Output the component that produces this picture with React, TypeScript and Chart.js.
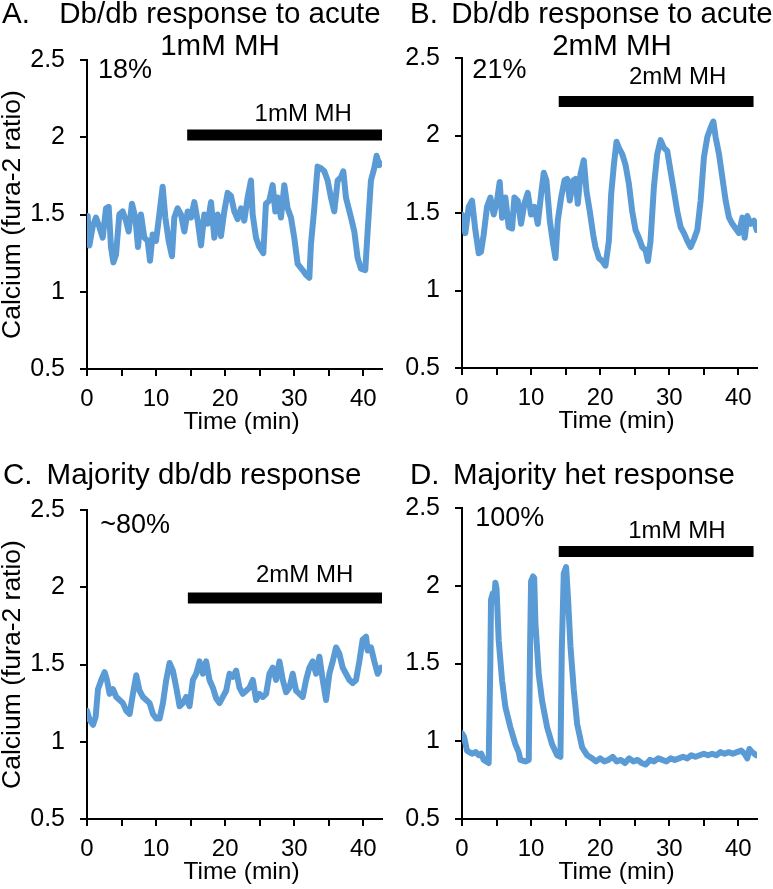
import React, { useEffect, useRef } from 'react';
import { Chart, registerables } from 'chart.js';

Chart.register(...registerables);

const FONT = '"Liberation Sans", Arial, Helvetica, sans-serif';

// ---- axes ----
const X_MAX = 42.7;
const X_TICKS = [0, 5, 10, 15, 20, 25, 30, 35, 40];
const X_LABELED = [0, 10, 20, 30, 40];
const Y_TICKS = [0.5, 1, 1.5, 2, 2.5];
const X_TITLE = 'Time (min)';
const Y_TITLE = 'Calcium (fura-2 ratio)';

// ---- panel A: db/db, acute 1mM MH ----
const timeA = [0.1, 0.34, 0.82, 1.3, 1.78, 2.27, 2.75, 3.14, 3.47, 3.81, 4.2, 4.68, 5.16, 5.64, 6.03, 6.51, 7.0, 7.38, 7.81, 8.3, 8.78, 9.12, 9.5, 9.99, 10.47, 10.95, 11.34, 11.82, 12.3, 12.64, 13.12, 13.6, 14.09, 14.57, 15.05, 15.53, 16.02, 16.5, 16.98, 17.46, 17.95, 18.43, 18.91, 19.39, 19.87, 20.36, 20.84, 21.32, 21.8, 22.29, 22.77, 23.25, 23.73, 23.98, 24.46, 24.94, 25.52, 25.9, 26.39, 26.87, 27.26, 27.6, 28.07, 28.56, 29.04, 29.52, 30.0, 30.49, 31.21, 31.69, 32.18, 32.42, 32.9, 33.38, 33.86, 34.35, 34.83, 35.31, 35.79, 36.28, 36.76, 37.1, 37.48, 38.21, 38.69, 39.17, 39.65, 40.28, 40.62, 41.1, 41.58, 41.92, 42.31, 42.55];
const ratioA = [1.49, 1.30, 1.42, 1.48, 1.42, 1.35, 1.54, 1.55, 1.29, 1.19, 1.24, 1.50, 1.52, 1.46, 1.39, 1.57, 1.48, 1.29, 1.50, 1.35, 1.33, 1.20, 1.37, 1.33, 1.50, 1.68, 1.48, 1.33, 1.23, 1.48, 1.54, 1.50, 1.39, 1.52, 1.48, 1.58, 1.46, 1.30, 1.50, 1.44, 1.58, 1.35, 1.50, 1.36, 1.52, 1.64, 1.62, 1.52, 1.47, 1.54, 1.46, 1.61, 1.72, 1.50, 1.35, 1.29, 1.25, 1.57, 1.59, 1.69, 1.52, 1.61, 1.48, 1.69, 1.54, 1.48, 1.35, 1.18, 1.14, 1.11, 1.09, 1.31, 1.54, 1.81, 1.80, 1.78, 1.72, 1.61, 1.52, 1.72, 1.74, 1.78, 1.61, 1.48, 1.39, 1.22, 1.15, 1.14, 1.39, 1.72, 1.80, 1.88, 1.82, 1.83];

// ---- panel B: db/db, acute 2mM MH ----
const timeB = [0, 0.48, 0.97, 1.45, 1.93, 2.42, 2.75, 3.14, 3.62, 4.11, 4.59, 5.07, 5.46, 5.8, 6.28, 6.76, 7.25, 7.58, 8.07, 8.55, 9.03, 9.52, 10.0, 10.48, 10.97, 11.45, 11.84, 12.22, 12.71, 13.19, 13.53, 13.86, 14.35, 14.83, 15.22, 15.6, 16.09, 16.43, 16.76, 17.15, 17.63, 18.02, 18.5, 18.99, 19.32, 19.81, 20.29, 20.77, 21.26, 21.59, 21.98, 22.37, 22.71, 23.19, 23.67, 24.15, 24.64, 25.12, 25.6, 26.09, 26.57, 26.91, 27.29, 27.78, 28.26, 28.74, 29.23, 29.71, 30.19, 30.68, 31.16, 31.64, 32.13, 32.61, 33.09, 33.57, 34.06, 34.54, 35.02, 35.51, 35.99, 36.38, 36.71, 37.2, 37.68, 38.16, 38.65, 39.13, 39.61, 40.1, 40.58, 40.92, 41.3, 41.79, 42.27, 42.66];
const ratioB = [1.49, 1.37, 1.54, 1.58, 1.39, 1.24, 1.25, 1.36, 1.54, 1.60, 1.49, 1.58, 1.70, 1.47, 1.60, 1.41, 1.40, 1.60, 1.58, 1.43, 1.56, 1.63, 1.49, 1.54, 1.43, 1.62, 1.76, 1.71, 1.45, 1.30, 1.21, 1.45, 1.60, 1.71, 1.72, 1.58, 1.71, 1.72, 1.56, 1.75, 1.84, 1.64, 1.51, 1.36, 1.28, 1.21, 1.19, 1.16, 1.32, 1.62, 1.81, 1.96, 1.92, 1.88, 1.81, 1.69, 1.51, 1.39, 1.34, 1.28, 1.26, 1.19, 1.32, 1.67, 1.88, 1.97, 1.92, 1.90, 1.77, 1.64, 1.51, 1.41, 1.37, 1.32, 1.28, 1.33, 1.39, 1.58, 1.86, 1.99, 2.05, 2.09, 1.99, 1.88, 1.73, 1.58, 1.47, 1.43, 1.40, 1.37, 1.47, 1.34, 1.48, 1.43, 1.45, 1.39];

// ---- panel C: majority db/db ----
const timeC = [0, 0.39, 0.87, 1.25, 1.59, 2.07, 2.55, 2.89, 3.28, 3.76, 4.24, 4.72, 5.2, 5.69, 6.17, 6.65, 7.13, 7.61, 8.1, 8.58, 9.06, 9.54, 10.02, 10.51, 10.99, 11.47, 11.95, 12.43, 12.92, 13.4, 13.88, 14.36, 14.84, 15.33, 15.81, 16.29, 16.77, 17.25, 17.73, 18.22, 18.7, 19.18, 19.66, 20.14, 20.63, 21.11, 21.59, 22.07, 22.55, 23.04, 23.52, 24.0, 24.48, 24.96, 25.45, 25.93, 26.41, 26.89, 27.37, 27.86, 28.34, 28.82, 29.3, 29.78, 30.27, 30.75, 31.23, 31.71, 32.19, 32.67, 33.16, 33.64, 34.12, 34.6, 35.08, 35.57, 36.05, 36.53, 37.01, 37.49, 37.98, 38.46, 38.94, 39.42, 39.9, 40.39, 40.63, 41.11, 41.59, 42.07, 42.55];
const ratioC = [1.20, 1.14, 1.11, 1.16, 1.34, 1.40, 1.45, 1.40, 1.31, 1.34, 1.29, 1.27, 1.25, 1.20, 1.18, 1.31, 1.43, 1.33, 1.29, 1.27, 1.25, 1.18, 1.15, 1.15, 1.25, 1.40, 1.51, 1.46, 1.35, 1.23, 1.25, 1.29, 1.23, 1.40, 1.44, 1.52, 1.44, 1.52, 1.40, 1.35, 1.28, 1.25, 1.29, 1.33, 1.44, 1.42, 1.46, 1.35, 1.31, 1.33, 1.35, 1.40, 1.27, 1.31, 1.29, 1.31, 1.44, 1.48, 1.40, 1.52, 1.40, 1.32, 1.35, 1.44, 1.33, 1.31, 1.29, 1.40, 1.48, 1.52, 1.44, 1.55, 1.40, 1.27, 1.44, 1.52, 1.61, 1.57, 1.48, 1.44, 1.40, 1.38, 1.40, 1.52, 1.66, 1.68, 1.59, 1.61, 1.52, 1.44, 1.48];

// ---- panel D: majority het ----
const timeD = [0, 0.29, 0.72, 1.45, 2.0, 2.42, 2.8, 3.14, 3.5, 3.86, 4.1, 4.2, 4.44, 4.65, 4.83, 5.0, 5.31, 5.8, 6.28, 7.0, 7.73, 8.2, 8.45, 9.18, 9.66, 9.85, 10.0, 10.29, 10.45, 10.63, 11.11, 11.59, 12.32, 13.04, 13.77, 14.25, 14.45, 14.73, 15.07, 15.36, 15.7, 16.18, 16.67, 17.39, 18.12, 18.84, 19.4, 20.0, 20.6, 21.2, 21.8, 22.4, 23.0, 23.6, 24.2, 24.8, 25.4, 26.0, 26.6, 27.2, 27.8, 28.4, 29.0, 29.6, 30.2, 30.8, 31.4, 32.0, 32.6, 33.2, 33.8, 34.4, 35.0, 35.6, 36.2, 36.8, 37.4, 38.0, 38.6, 39.2, 39.8, 40.4, 40.9, 41.3, 41.6, 42.0, 42.3, 42.6];
const ratioD = [1.05, 1.03, 0.94, 0.92, 0.93, 0.91, 0.92, 0.88, 0.87, 0.86, 1.50, 1.91, 1.95, 1.90, 2.02, 1.98, 1.65, 1.39, 1.22, 1.09, 0.98, 0.93, 0.88, 0.87, 0.88, 1.60, 2.03, 2.06, 2.05, 1.76, 1.43, 1.26, 1.09, 0.98, 0.91, 0.90, 1.60, 2.08, 2.12, 1.91, 1.61, 1.33, 1.11, 0.96, 0.91, 0.89, 0.87, 0.89, 0.87, 0.88, 0.90, 0.87, 0.88, 0.86, 0.89, 0.87, 0.88, 0.86, 0.85, 0.88, 0.87, 0.89, 0.88, 0.87, 0.89, 0.88, 0.89, 0.90, 0.89, 0.91, 0.90, 0.91, 0.92, 0.91, 0.92, 0.91, 0.93, 0.92, 0.93, 0.92, 0.93, 0.94, 0.92, 0.89, 0.95, 0.93, 0.92, 0.91];

// ---- treatment bars & labels ----
const barStart = [14.5, 14.0, 14.6, 14.0];
const barEnd = [42.7, 42.2, 42.7, 42.2];
const barLevel = [2.015, 2.22, 1.93, 2.22];
const barLabels = ['1mM MH', '2mM MH', '2mM MH', '1mM MH'];
const percentLabels = ['18%', '21%', '~80%', '100%'];
const panelLetters = ['A.', 'B.', 'C.', 'D.'];
const panelTitles = [
  ['Db/db response to acute', '1mM MH'],
  ['Db/db response to acute', '2mM MH'],
  ['Majority db/db response'],
  ['Majority het response'],
];

const SERIES = [
  { t: timeA, v: ratioA },
  { t: timeB, v: ratioB },
  { t: timeC, v: ratioC },
  { t: timeD, v: ratioD },
];

// ---- layout (pixels) ----
const LAYOUT = [
  { left: 0, top: 0, w: 386, h: 445, area: { l: 87, r: 382, t: 60, b: 369 }, letterX: 2, titleX: 220, titleY: 23, yTitle: true, pct: [1.6, 2.43], lab: [31.3, 2.15] },
  { left: 386, top: 0, w: 387, h: 445, area: { l: 76, r: 371, t: 58, b: 368 }, letterX: 24, titleX: 226, titleY: 23, yTitle: false, pct: [1.5, 2.42], lab: [31.2, 2.375] },
  { left: 0, top: 445, w: 386, h: 444, area: { l: 87, r: 382, t: 65, b: 374 }, letterX: 3, titleX: 204, titleY: 39, yTitle: true, pct: [1.9, 2.4], lab: [31.5, 2.076] },
  { left: 386, top: 445, w: 387, h: 444, area: { l: 76, r: 371, t: 63, b: 374 }, letterX: 24, titleX: 208, titleY: 39, yTitle: false, pct: [1.9, 2.43], lab: [31.1, 2.35] },
];

const LINE_COLOR = '#5B9BD5';
const TITLE_SIZE = 29.5;
const TITLE_GAP = 32;

function makeTextPlugin(i: number) {
  const L = LAYOUT[i];
  return {
    id: 'panelText' + i,
    afterDraw(chart: any) {
      const { ctx, chartArea: a, scales } = chart;
      const xs = scales.x;
      const ys = scales.y;
      ctx.save();
      ctx.fillStyle = '#000';
      // panel title
      ctx.font = `${TITLE_SIZE}px ${FONT}`;
      ctx.textBaseline = 'alphabetic';
      ctx.textAlign = 'left';
      ctx.fillText(panelLetters[i], L.letterX, L.titleY);
      ctx.textAlign = 'center';
      panelTitles[i].forEach((line, k) => ctx.fillText(line, L.titleX, L.titleY + k * TITLE_GAP));
      // percentage
      ctx.font = `27px ${FONT}`;
      ctx.textAlign = 'left';
      ctx.textBaseline = 'middle';
      ctx.fillText(percentLabels[i], xs.getPixelForValue(L.pct[0]), ys.getPixelForValue(L.pct[1]));
      // bar label
      ctx.font = `24px ${FONT}`;
      ctx.textAlign = 'center';
      ctx.fillText(barLabels[i], xs.getPixelForValue(L.lab[0]), ys.getPixelForValue(L.lab[1]));
      // x axis title
      ctx.font = `24.5px ${FONT}`;
      ctx.textBaseline = 'alphabetic';
      ctx.fillText(X_TITLE, (a.left + a.right) / 2 + 7, a.bottom + 60);
      // y axis title
      if (L.yTitle) {
        ctx.font = `26.5px ${FONT}`;
        ctx.translate(13, (a.top + a.bottom) / 2);
        ctx.rotate(-Math.PI / 2);
        ctx.textBaseline = 'middle';
        ctx.fillText(Y_TITLE, 0, 0);
      }
      ctx.restore();
    },
  };
}

function Panel({ index }: { index: number }) {
  const ref = useRef<HTMLCanvasElement>(null);
  const L = LAYOUT[index];
  useEffect(() => {
    const s = SERIES[index];
    const trace = s.t.map((t, k) => ({ x: t, y: s.v[k] }));
    const bar = [
      { x: barStart[index], y: barLevel[index] },
      { x: barEnd[index], y: barLevel[index] },
    ];
    const chart = new Chart(ref.current as HTMLCanvasElement, {
      type: 'line',
      data: {
        datasets: [
          {
            data: trace,
            borderColor: LINE_COLOR,
            borderWidth: 6,
            pointRadius: 0,
            tension: 0,
            borderJoinStyle: 'round',
            borderCapStyle: 'round',
          },
          {
            data: bar,
            borderColor: '#000',
            borderWidth: 11,
            pointRadius: 0,
            borderCapStyle: 'butt',
          },
        ],
      },
      options: {
        animation: false,
        responsive: false,
        events: [],
        layout: { padding: { left: 0, top: L.area.t, right: L.w - L.area.r, bottom: 0 } },
        plugins: { legend: { display: false }, tooltip: { enabled: false }, title: { display: false } },
        scales: {
          x: {
            type: 'linear',
            min: 0,
            max: X_MAX,
            afterBuildTicks: (sc: any) => { sc.ticks = X_TICKS.map((v) => ({ value: v })); },
            afterFit: (sc: any) => { sc.height = L.h - L.area.b; },
            ticks: {
              color: '#000',
              font: { family: FONT, size: 24 },
              padding: 9,
              maxRotation: 0,
              autoSkip: false,
              callback: (v: any) => (X_LABELED.includes(Number(v)) ? String(v) : ''),
            },
            grid: { drawOnChartArea: false, drawTicks: true, tickLength: 7, color: '#000', lineWidth: 2 },
            border: { display: true, color: '#000', width: 2 },
          },
          y: {
            type: 'linear',
            min: 0.5,
            max: 2.5,
            afterBuildTicks: (sc: any) => { sc.ticks = Y_TICKS.map((v) => ({ value: v })); },
            afterFit: (sc: any) => { sc.width = L.area.l; },
            ticks: {
              color: '#000',
              font: { family: FONT, size: 25 },
              padding: 15,
              autoSkip: false,
              callback: (v: any) => String(v),
            },
            grid: { drawOnChartArea: false, drawTicks: true, tickLength: 7, color: '#000', lineWidth: 2 },
            border: { display: true, color: '#000', width: 2 },
          },
        },
      },
      plugins: [makeTextPlugin(index)],
    } as any);
    return () => chart.destroy();
  }, [index]);
  return (
    <canvas
      ref={ref}
      width={L.w}
      height={L.h}
      style={{ position: 'absolute', left: L.left, top: L.top, width: L.w, height: L.h }}
    />
  );
}

export default function App() {
  return (
    <div style={{ position: 'absolute', left: 0, top: 0, width: 773, height: 889, background: '#fff', overflow: 'hidden' }}>
      {[0, 1, 2, 3].map((i) => (
        <Panel key={i} index={i} />
      ))}
    </div>
  );
}
